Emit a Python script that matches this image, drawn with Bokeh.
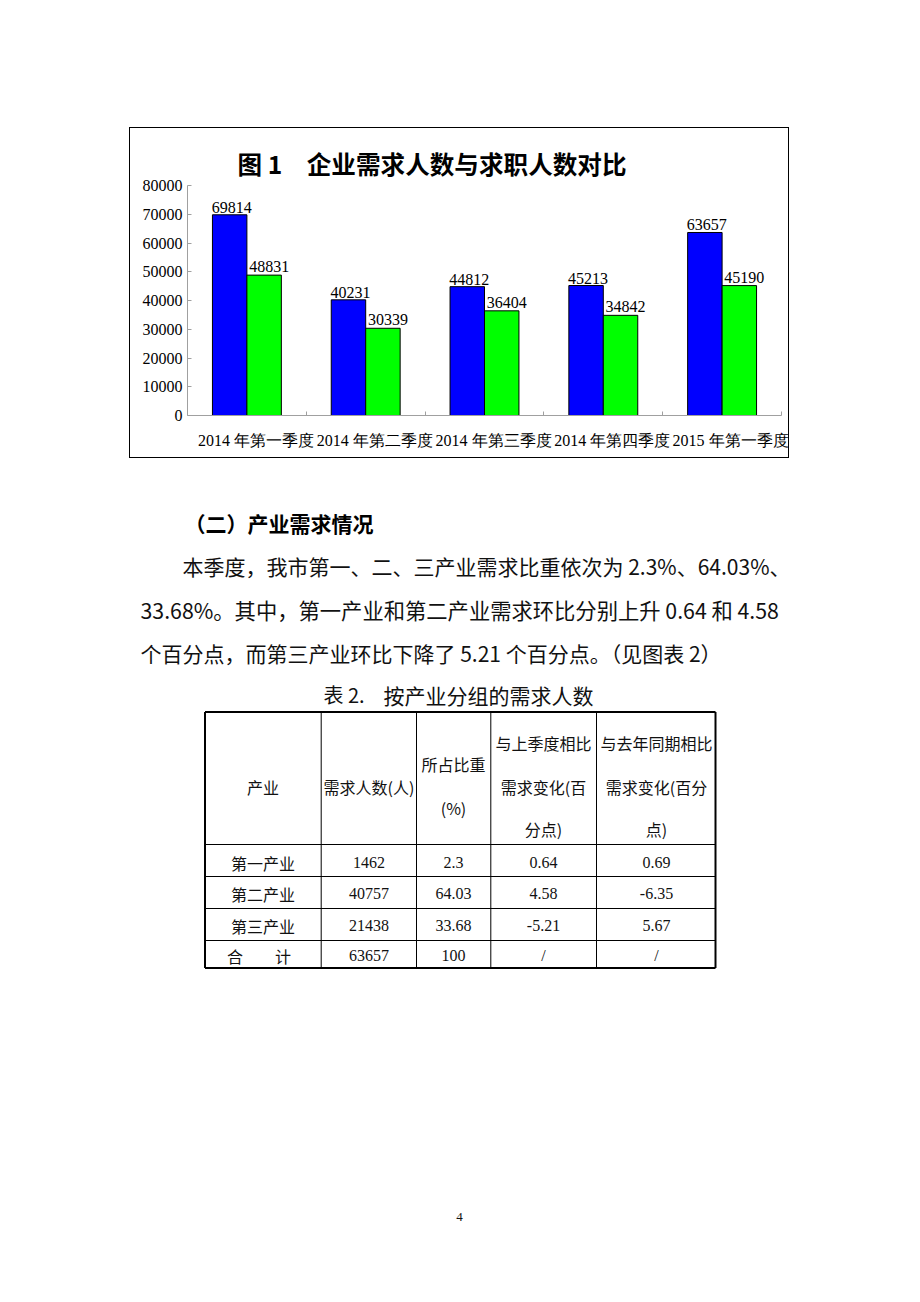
from bokeh.plotting import figure
from bokeh.models import (Range1d, FixedTicker, ColumnDataSource, Spacer, NumeralTickFormatter)
from bokeh.layouts import column, row
from bokeh.transform import dodge
from bokeh.core.properties import value
from bokeh.embed import file_html
from bokeh.resources import INLINE

# ---------------- data ----------------
quarters = ["2014 年第一季度", "2014 年第二季度", "2014 年第三季度", "2014 年第四季度", "2015 年第一季度"]
demand = [69814, 40231, 44812, 45213, 63657]      # 企业需求人数
seekers = [48831, 30339, 36404, 34842, 45190]     # 求职人数
y_ticks = [0, 10000, 20000, 30000, 40000, 50000, 60000, 70000, 80000]
chart_title = "图 1　企业需求人数与求职人数对比"

heading = "（二）产业需求情况"
para_lines = [
    "本季度，我市第一、二、三产业需求比重依次为 2.3%、64.03%、",
    "33.68%。其中，第一产业和第二产业需求环比分别上升 0.64 和 4.58",
    "个百分点，而第三产业环比下降了 5.21 个百分点。（见图表 2）",
]
table_caption_a = "表 2."
table_caption_b = "按产业分组的需求人数"

hdr_col1 = ["产业"]
hdr_col2 = ["需求人数(人)"]
hdr_col3 = ["所占比重", "(%)"]
hdr_col4 = ["与上季度相比", "需求变化(百", "分点)"]
hdr_col5 = ["与去年同期相比", "需求变化(百分", "点)"]

industries = ["第一产业", "第二产业", "第三产业", "合　　计"]
ind_demand = ["1462", "40757", "21438", "63657"]
ind_share = ["2.3", "64.03", "33.68", "100"]
chg_prev = ["0.64", "4.58", "-5.21", "/"]
chg_year = ["0.69", "-6.35", "5.67", "/"]
page_no = "4"

CJK = "Noto Sans CJK SC"
SERIF = "Liberation Serif"
GRAY = "#a0a0a0"
INK = "#111111"

# ---------------- chart ----------------
n = len(quarters)
centres = [i + 0.5 for i in range(n)]          # group centres on a 0..n axis
src = ColumnDataSource(dict(xc=centres, demand=demand, seekers=seekers,
                            dl=[str(v) for v in demand], sl=[str(v) for v in seekers]))

chart = figure(width=660, height=331,
               x_range=Range1d(0, n), y_range=Range1d(0, 80000),
               toolbar_location=None, tools="",
               output_backend="svg", title=chart_title,
               min_border_left=57, min_border_right=9, min_border_top=57, min_border_bottom=44,
               styles={"border": "1px solid black", "box-sizing": "border-box"})
chart.outline_line_color = None
chart.xgrid.visible = False
chart.ygrid.visible = False
chart.background_fill_alpha = 0
chart.border_fill_alpha = 0

chart.title.align = "left"
chart.title.offset = 50
chart.title.standoff = 10
chart.title.text_font = CJK
chart.title.text_font_size = "24.6px"
chart.title.text_font_style = "bold"
chart.title.text_color = "black"

xb = dodge("xc", -0.145)
xg = dodge("xc", 0.145)
chart.vbar(x=xb, top="demand", width=0.29, fill_color="#0000FF", line_color="black",
           line_width=1, source=src)
chart.vbar(x=xg, top="seekers", width=0.29, fill_color="#00FF00", line_color="black",
           line_width=1, source=src)
chart.text(x=xb, y="demand", text="dl", text_align="center", text_baseline="bottom",
           x_offset=2, y_offset=-2, text_font=value(SERIF), text_font_size="16px",
           text_color="black", source=src, level="overlay")
chart.text(x=xg, y="seekers", text="sl", text_align="center", text_baseline="bottom",
           x_offset=5, y_offset=-3, text_font=value(SERIF), text_font_size="16px",
           text_color="black", source=src, level="overlay")

ya = chart.yaxis[0]
ya.ticker = FixedTicker(ticks=y_ticks)
ya.formatter = NumeralTickFormatter(format="0")
ya.axis_line_color = GRAY
ya.major_tick_line_color = GRAY
ya.major_tick_in = 4
ya.major_tick_out = 0
ya.minor_tick_line_color = None
ya.major_label_standoff = 5
ya.major_label_text_font = SERIF
ya.major_label_text_font_size = "16px"
ya.major_label_text_color = "black"

# category labels sit slightly right of the group centres, as in the source
label_pos = [round(c + 0.0758, 4) for c in centres]
xa = chart.xaxis[0]
xa.ticker = FixedTicker(ticks=label_pos, minor_ticks=list(range(1, n + 1)))
xa.major_label_overrides = {p: q for p, q in zip(label_pos, quarters)}
xa.axis_line_color = GRAY
xa.major_tick_line_color = None
xa.major_tick_in = 0
xa.major_tick_out = 0
xa.minor_tick_line_color = GRAY
xa.minor_tick_in = 4
xa.minor_tick_out = 0
xa.major_label_standoff = 16
xa.major_label_text_font = SERIF
xa.major_label_text_font_size = "16px"
xa.major_label_text_color = "black"

# ---------------- page (text + table) ----------------
TOP = 458
page = figure(width=920, height=1302 - TOP, x_range=Range1d(0, 920), y_range=Range1d(1302, TOP),
              toolbar_location=None, tools="", output_backend="svg", min_border=0,
              x_axis_location=None, y_axis_location=None)
page.outline_line_color = None
page.grid.visible = False


def put(x, y, t, size, font=CJK, align="left", style="normal", color=INK):
    page.text(x=[x], y=[y], text=[t], text_font=value(font), text_font_size=size,
              text_align=align, text_baseline="middle", text_font_style=style,
              text_color=color)


put(184, 522, heading, "21px", style="bold", color="black")
put(182, 565, para_lines[0], "21px")
put(140, 609, para_lines[1], "21.3px")
put(140, 652, para_lines[2], "21px")
put(323, 694, table_caption_a, "20px")
put(383, 694, table_caption_b, "21px")

# table grid
L, R, T, B = 204.5, 715, 711.5, 967.5
vx = [320.7, 416, 490.3, 596]
hy = [844, 876, 908, 940]
page.segment(x0=vx, y0=[T] * 4, x1=vx, y1=[B] * 4, line_color="black", line_width=1)
page.segment(x0=[L] * 4, y0=hy, x1=[R] * 4, y1=hy, line_color="black", line_width=1)
page.segment(x0=[L, L, L, R], y0=[T, B, T, T], x1=[R, R, L, R], y1=[T, B, B, B],
             line_color="black", line_width=2)

cx = [262.5, 368.5, 453, 543, 656]
put(cx[0], 786, hdr_col1[0], "16px", align="center")
put(cx[1], 786, hdr_col2[0], "16px", align="center")
for t, y in zip(hdr_col3, [763, 807]):
    put(cx[2], y, t, "16px", align="center")
for t, y in zip(hdr_col4, [742, 786, 828]):
    put(cx[3], y, t, "16px", align="center")
for t, y in zip(hdr_col5, [742, 786, 828]):
    put(cx[4], y, t, "16px", align="center")

row_y = [862, 893, 925, 955]
for i, y in enumerate(row_y):
    put(258.5 if i == 3 else cx[0], y, industries[i], "16px", align="center")
    put(cx[1], y, ind_demand[i], "16px", font=SERIF, align="center")
    put(cx[2], y, ind_share[i], "16px", font=SERIF, align="center")
    put(cx[3], y, chg_prev[i], "16px", font=SERIF, align="center")
    put(cx[4], y, chg_year[i], "16px", font=SERIF, align="center")

put(459, 1216, page_no, "13px", font=SERIF, align="center")

layout = column(Spacer(width=920, height=127),
                row(Spacer(width=129, height=331), chart),
                page)

open("out.html", "w").write(file_html(layout, INLINE))
